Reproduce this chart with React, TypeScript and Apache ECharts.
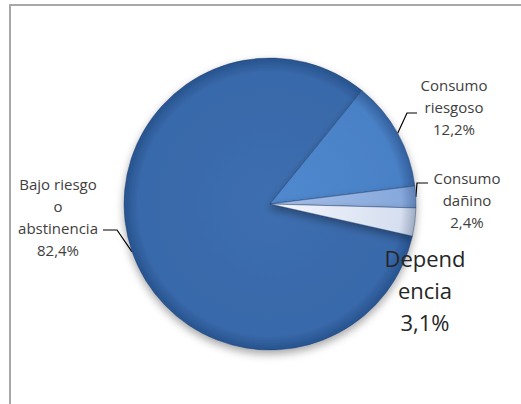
import React, { useEffect, useRef } from "react";
import * as echarts from "echarts";

// ---- data ----
const categories = ["Bajo riesgo o abstinencia", "Consumo riesgoso", "Consumo dañino", "Dependencia"];
const labelTexts = ["Bajo riesgo\no\nabstinencia", "Consumo\nriesgoso", "Consumo\ndañino", "Depend\nencia"];
const values = [82.4, 12.2, 2.4, 3.1];

// ---- styles / layout ----
const CX = 270;
const CY = 204;
const R = 146;
const sliceColors: [string, string, string][] = [
  ["#3d6eaf", "#3969aa", "#27538e"],
  ["#5089cf", "#4a81c6", "#335f9c"],
  ["#a9c2e8", "#86a8db", "#5f80b4"],
  ["#f4f7fc", "#d6dff0", "#9fabc2"],
];
const labelPos = [
  { x: 58, y: 217, line: [[117, 230], [103, 230]], fs: 15, lh: 22, color: "#404040" },
  { x: 454, y: 107, line: [[407, 113], [417, 113]], fs: 15, lh: 22, color: "#404040" },
  { x: 467, y: 200, line: [[417, 183], [428, 183]], fs: 15, lh: 22, color: "#404040" },
  { x: 425, y: 290, line: null as number[][] | null, fs: 22, lh: 32, color: "#262626" },
];

const fmt = (v: number) => v.toFixed(1).replace(".", ",") + "%";

export default function App() {
  const ref = useRef<HTMLDivElement>(null);
  useEffect(() => {
    if (!ref.current) return;
    const chart = echarts.init(ref.current, null, { renderer: "svg" });
    const data = values.map((v, i) => ({
      name: categories[i],
      value: v,
      itemStyle: {
        color: {
          type: "radial",
          x: CX,
          y: CY,
          r: R,
          global: true,
          colorStops: [
            { offset: 0, color: sliceColors[i][0] },
            { offset: 0.9, color: sliceColors[i][1] },
            { offset: 1, color: sliceColors[i][2] },
          ],
        },
      },
      label: {
        fontSize: labelPos[i].fs,
        lineHeight: labelPos[i].lh,
        color: labelPos[i].color,
      },
      labelLine: { show: labelPos[i].line !== null },
    }));
    chart.setOption({
      animation: false,
      backgroundColor: "#ffffff",
      graphic: [
        {
          type: "rect",
          shape: { x: 10, y: 5, width: 700, height: 600 },
          style: { fill: "none", stroke: "#a8a8a8", lineWidth: 2 },
          silent: true,
        },
      ],
      series: [
        {
          type: "pie",
          center: [CX, CY],
          radius: [0, R],
          startAngle: 347.3,
          clockwise: true,
          data,
          itemStyle: {
            borderColor: "rgba(30,60,110,0.55)",
            borderWidth: 0.8,
            shadowBlur: 8,
            shadowOffsetY: 4,
            shadowColor: "rgba(0,0,0,0.35)",
          },
          label: {
            show: true,
            position: "outside",
            fontFamily: "Open Sans",
            align: "center",
            overflow: "none",
            width: 200,
            formatter: (p: any) => labelTexts[p.dataIndex] + "\n" + fmt(p.value),
          },
          labelLine: {
            show: true,
            lineStyle: { color: "#000000", width: 1.2 },
          },
          labelLayout: (params: any) => {
            const i = params.dataIndex;
            const L = labelPos[i];
            const out: any = { x: L.x, y: L.y, align: "center", verticalAlign: "middle" };
            if (L.line && params.labelLinePoints) {
              out.labelLinePoints = [params.labelLinePoints[0], L.line[0], L.line[1]];
            }
            return out;
          },
        },
      ],
    });
    return () => chart.dispose();
  }, []);
  return (
    <div
      ref={ref}
      style={{ position: "absolute", left: 0, top: 0, width: 521, height: 404 }}
    />
  );
}
